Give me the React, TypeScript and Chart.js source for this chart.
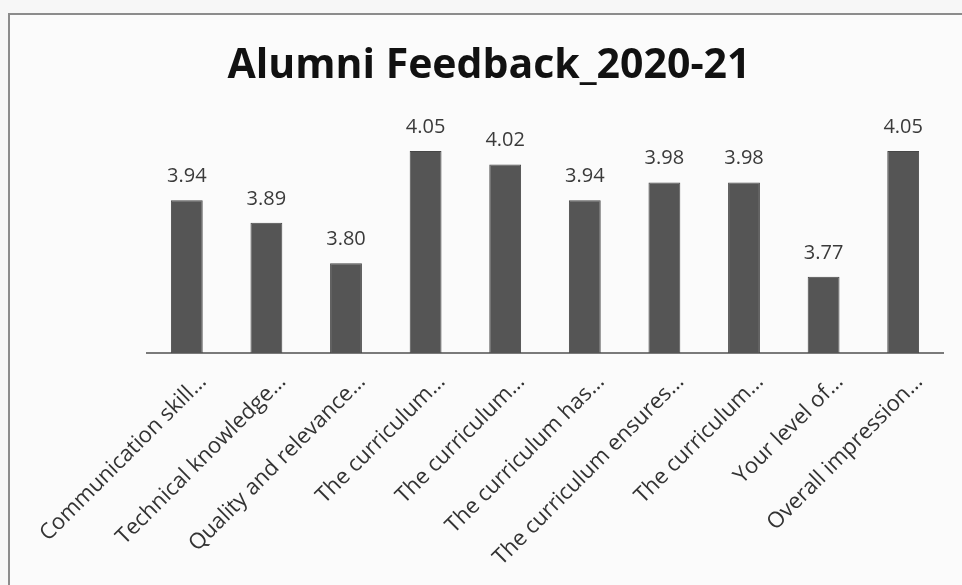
import React, { useEffect, useRef } from "react";
import { Chart, registerables } from "chart.js";

Chart.register(...registerables);

const TITLE = "Alumni Feedback_2020-21";
const categories = [
  "Communication skill…",
  "Technical knowledge…",
  "Quality and relevance…",
  "The curriculum…",
  "The curriculum…",
  "The curriculum has…",
  "The curriculum ensures…",
  "The curriculum…",
  "Your level of…",
  "Overall impression…",
];
const values = [3.94, 3.89, 3.8, 4.05, 4.02, 3.94, 3.98, 3.98, 3.77, 4.05];
const Y_MIN = 3.6;
const Y_MAX = 4.1;

const valueLabels = {
  id: "valueLabels",
  afterDatasetsDraw(chart: any) {
    const { ctx } = chart;
    const meta = chart.getDatasetMeta(0);
    ctx.save();
    ctx.font = '20px "Open Sans"';
    ctx.fillStyle = "#3a3a3a";
    ctx.textAlign = "center";
    ctx.textBaseline = "alphabetic";
    meta.data.forEach((bar: any, i: number) => {
      ctx.fillText(values[i].toFixed(2), bar.x, bar.y - 18);
    });
    ctx.restore();
  },
};

const titlePlugin = {
  id: "titlePlugin",
  afterDraw(chart: any) {
    const { ctx } = chart;
    ctx.save();
    ctx.font = 'bold 41px "Open Sans"';
    ctx.fillStyle = "#111";
    ctx.textAlign = "center";
    ctx.textBaseline = "alphabetic";
    ctx.fillText(TITLE, 489, 78);
    ctx.restore();
  },
};

export default function App() {
  const ref = useRef<HTMLCanvasElement>(null);
  useEffect(() => {
    document.body.style.margin = "0";
    const chart = new Chart(ref.current!, {
      type: "bar",
      data: {
        labels: categories,
        datasets: [
          {
            data: values,
            backgroundColor: "#555555",
            borderColor: "#474747",
            borderWidth: 1,
            barPercentage: 0.4,
            categoryPercentage: 1,
          },
        ],
      },
      options: {
        responsive: false,
        animation: false,
        layout: { padding: { left: 147, right: 19, top: 128.5, bottom: 0 } },
        plugins: {
          legend: { display: false },
          tooltip: { enabled: false },
          title: { display: false },
        },
        scales: {
          y: { display: false, min: Y_MIN, max: Y_MAX },
          x: {
            grid: { display: false, drawTicks: false },
            border: { display: true, color: "#7a7a7a", width: 2 },
            ticks: {
              color: "#333",
              font: { family: "Open Sans", size: 22 },
              minRotation: 45,
              maxRotation: 45,
              autoSkip: false,
              padding: 16,
              labelOffset: 16,
            },
            afterFit: (scale: any) => {
              scale.height = 232;
            },
          },
        },
      },
      plugins: [valueLabels, titlePlugin],
    });
    return () => chart.destroy();
  }, []);
  return (
    <div style={{ position: "absolute", left: 0, top: 0, width: 962, height: 585, overflow: "hidden", background: "#f7f7f7" }}>
      <div style={{ position: "absolute", left: 8, top: 13, width: 1000, height: 700, borderLeft: "2px solid #8c8c8c", borderTop: "2px solid #8c8c8c", background: "#fbfbfb" }} />
      <canvas ref={ref} width={962} height={585} style={{ position: "absolute", left: 0, top: 0 }} />
    </div>
  );
}
